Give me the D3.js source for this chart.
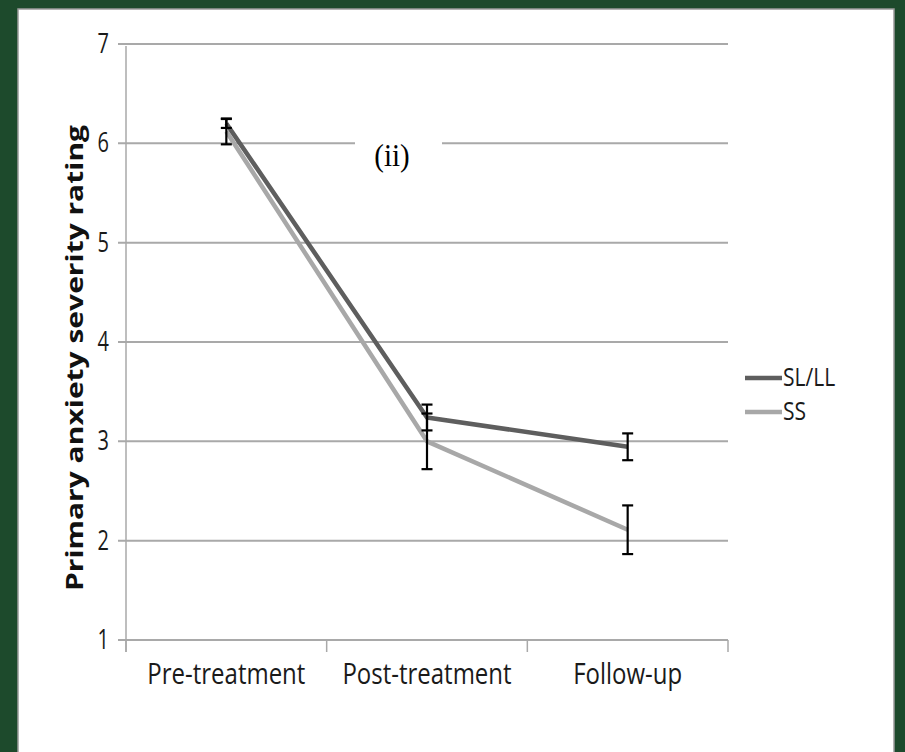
<!DOCTYPE html>
<html>
<head>
    <meta charset="utf-8">
    <title>Anxiety severity</title>
    <script src="https://d3js.org/d3.v7.min.js"></script>
    <style>
        body { margin: 0; background: #1d4a2c; }
        svg { display: block; }
    </style>
</head>
<body>
<svg width="905" height="752"></svg>
<script>
    const width = 905;
    const height = 752;

    // data
    const categories = ["Pre-treatment", "Post-treatment", "Follow-up"];
    const yTicks = [1, 2, 3, 4, 5, 6, 7];
    const seriesNames = ["SL/LL", "SS"];
    const slllMeans = [6.20, 3.24, 2.945];
    const slllErr = [0.045, 0.13, 0.135];
    const ssMeans = [6.12, 3.00, 2.11];
    const ssErr = [0.13, 0.28, 0.245];

    const colors = { "SL/LL": "#5e5e5e", "SS": "#a8a8a8" };

    const series = [
        { name: "SL/LL", values: slllMeans, err: slllErr },
        { name: "SS", values: ssMeans, err: ssErr }
    ];

    // the original picture is a bit stretched vertically
    const stretch = 1.25;

    const svg = d3.select("svg");

    // white panel
    svg.append("rect")
        .attr("x", 18).attr("y", 9)
        .attr("width", 876).attr("height", 752)
        .attr("fill", "#ffffff")
        .attr("stroke", "#9a9a9a")
        .attr("stroke-width", 1.5);

    const x = d3.scaleBand().domain(categories).range([126, 728]);
    const y = d3.scaleLinear().domain([1, 7]).range([640, 44]);

    // gridlines
    svg.append("g")
        .selectAll("line")
        .data(yTicks)
        .join("line")
        .attr("x1", 118).attr("x2", 728)
        .attr("y1", d => y(d)).attr("y2", d => y(d))
        .attr("stroke", "#a9a9a9")
        .attr("stroke-width", 2);

    // y axis line
    svg.append("line")
        .attr("x1", 126).attr("x2", 126)
        .attr("y1", y(7) + 2).attr("y2", y(1) + 12)
        .attr("stroke", "#a9a9a9")
        .attr("stroke-width", 1.5);

    // x ticks at category boundaries
    const bounds = categories.map(c => x(c)).concat([x.range()[1]]);
    svg.append("g")
        .selectAll("line")
        .data(bounds)
        .join("line")
        .attr("x1", d => d).attr("x2", d => d)
        .attr("y1", y(1)).attr("y2", y(1) + 12)
        .attr("stroke", "#a9a9a9")
        .attr("stroke-width", 1.5);

    // y tick labels
    svg.append("g")
        .selectAll("text")
        .data(yTicks)
        .join("text")
        .attr("transform", d => "translate(109," + (y(d) + 9) + ") scale(1," + (stretch + 0.1) + ")")
        .attr("text-anchor", "end")
        .attr("font-family", "Open Sans, sans-serif")
        .attr("font-size", 20)
        .attr("fill", "#1a1a1a")
        .text(d => d);

    // category labels
    svg.append("g")
        .selectAll("text")
        .data(categories)
        .join("text")
        .attr("transform", d => "translate(" + (x(d) + x.bandwidth() / 2) + ",684) scale(1," + stretch + ")")
        .attr("text-anchor", "middle")
        .attr("font-family", "Open Sans, sans-serif")
        .attr("font-size", 24)
        .attr("fill", "#1a1a1a")
        .text(d => d);

    // y axis title
    svg.append("text")
        .attr("transform", "translate(83,358) rotate(-90) scale(" + stretch + ",1)")
        .attr("text-anchor", "middle")
        .attr("font-family", "Open Sans, sans-serif")
        .attr("font-weight", "bold")
        .attr("font-size", 24)
        .attr("fill", "#111")
        .text("Primary anxiety severity rating");

    // "(ii)" label with white backing
    svg.append("rect")
        .attr("x", 355).attr("y", 128)
        .attr("width", 87).attr("height", 44)
        .attr("fill", "#ffffff");
    svg.append("text")
        .attr("transform", "translate(392,166) scale(1,1.1)")
        .attr("text-anchor", "middle")
        .attr("font-family", "Liberation Serif, serif")
        .attr("font-size", 29)
        .attr("fill", "#000")
        .text("(ii)");

    const cx = c => x(c) + x.bandwidth() / 2;

    // lines
    const line = d3.line()
        .x((d, i) => cx(categories[i]))
        .y(d => y(d));

    svg.append("g")
        .selectAll("path")
        .data(series.slice().reverse())
        .join("path")
        .attr("d", d => line(d.values))
        .attr("fill", "none")
        .attr("stroke", d => colors[d.name])
        .attr("stroke-width", 4.5)
        .attr("stroke-linejoin", "round");

    // error bars
    const errG = svg.append("g")
        .attr("stroke", "#000")
        .attr("stroke-width", 2.2);
    series.forEach(s => {
        s.values.forEach((v, i) => {
            const px = cx(categories[i]);
            const top = y(v + s.err[i]);
            const bot = y(v - s.err[i]);
            errG.append("line").attr("x1", px).attr("x2", px).attr("y1", top).attr("y2", bot);
            errG.append("line").attr("x1", px - 5.5).attr("x2", px + 5.5).attr("y1", top).attr("y2", top);
            errG.append("line").attr("x1", px - 5.5).attr("x2", px + 5.5).attr("y1", bot).attr("y2", bot);
        });
    });

    // legend
    const legend = svg.append("g")
        .selectAll("g")
        .data(seriesNames)
        .join("g")
        .attr("transform", (d, i) => "translate(745," + (378 + i * 34) + ")");
    legend.append("line")
        .attr("x1", 0).attr("x2", 37)
        .attr("stroke", d => colors[d])
        .attr("stroke-width", 4.5);
    legend.append("text")
        .attr("transform", "translate(38,8) scale(1," + stretch + ")")
        .attr("font-family", "Open Sans, sans-serif")
        .attr("font-size", 21)
        .attr("fill", "#1a1a1a")
        .text(d => d);
</script>
</body>
</html>
